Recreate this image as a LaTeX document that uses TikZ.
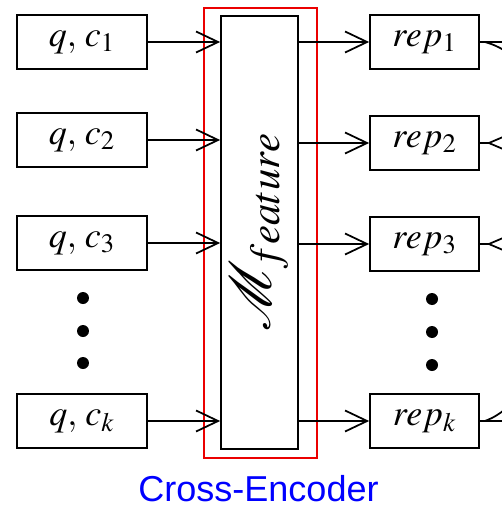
\documentclass[tikz,border=0pt]{standalone}
\usepackage{mathptmx}
\usepackage[no-math]{fontspec}
\usetikzlibrary{arrows.meta,positioning}
\newfontfamily\capfont{Liberation Sans}
\definecolor{enc}{RGB}{0,0,255}
\definecolor{frame}{RGB}{235,0,0}

\begin{document}
\begin{tikzpicture}[x=0.02cm,y=-0.02cm,line width=1pt,>={Straight Barb[length=4.4mm,width=4.2mm]},
  box/.style={draw,minimum width=2.6cm,minimum height=1.07cm,inner sep=0pt,font=\fontsize{20.5}{22}\selectfont},
  repbox/.style={box,minimum width=2.18cm},
  dot/.style={circle,fill,inner sep=0pt,minimum size=2.4mm}]
\useasboundingbox (0,0) rectangle (502,507);
\clip (0,0) rectangle (502,507);
% inputs
\node[box] (in1) at (82,42) {$q,\,c_1$};
\node[box] (in2) at (82,140) {$q,\,c_2$};
\node[box] (in3) at (82,243) {$q,\,c_3$};
\node[box] (ink) at (82,421) {$q,\,c_k$};
\foreach \y [count=\i] in {298,331,363} \node[dot] (ldot\i) at (83,\y) {};
% encoder
\node[draw,minimum width=1.54cm,minimum height=8.66cm,inner sep=0pt] (feat) at (259.5,232.5) {};
\node[rotate=90,font=\fontsize{33}{36}\selectfont] (featlabel) at (feat.center) {$\mathcal{M}_{feature}$};
\node[draw=frame,line width=1.1pt,minimum width=2.26cm,minimum height=9cm,inner sep=0pt] (cross) at (260.5,233) {};
\node[font=\capfont\fontsize{20.5}{24}\selectfont,text=enc] (caption) at (258.5,489) {Cross-Encoder};
% outputs
\node[repbox] (rep1) at (424.5,42) {$rep_1$};
\node[repbox] (rep2) at (424.5,143) {$rep_2$};
\node[repbox] (rep3) at (424.5,244) {$rep_3$};
\node[repbox] (repk) at (424.5,421) {$rep_k$};
\foreach \y [count=\i] in {299,332,365} \node[dot] (rdot\i) at (432,\y) {};
\foreach \n in {1,2,3,k} {
  \draw[->] (in\n.east) -- (in\n.east -| feat.west);
  \draw[->] (feat.east |- rep\n.west) -- (rep\n.west);
}
% fan-out to the right
\coordinate (out1) at (530,42);
\coordinate (outk) at (530,421);
\draw (rep1.east) -- (out1);
\draw (rep1.east) ++(5,0) to[out=-15,in=155] ++(40,20);
\draw (rep2.east) -- ++(9,0) coordinate (fork2) -- ++(40,-17);
\draw (fork2) -- ++(40,17);
\draw (rep3.east) -- ++(9,0) coordinate (fork3) -- ++(40,-17);
\draw (fork3) -- ++(40,17);
\draw (repk.east) -- (outk);
\draw (repk.east) ++(5,0) to[out=20,in=-150] ++(40,-26);
\end{tikzpicture}
\end{document}
